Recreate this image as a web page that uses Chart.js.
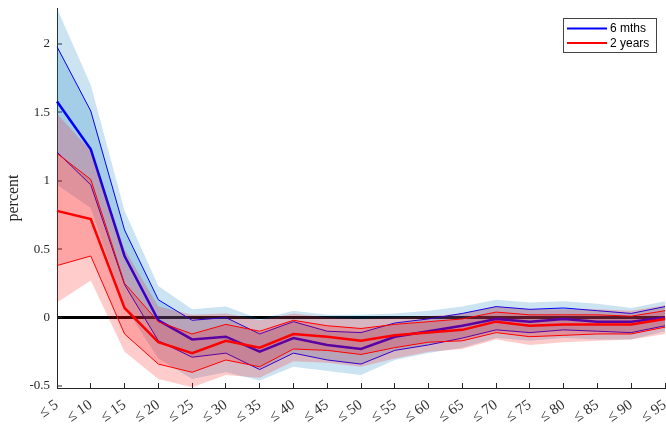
<!DOCTYPE html>
<html>
<head>
<meta charset="utf-8">
<script src="https://cdn.jsdelivr.net/npm/chart.js@4/dist/chart.umd.min.js"></script>
<style>
  html, body { margin: 0; padding: 0; background: #fff; }
  #wrap { width: 666px; height: 426px; }
</style>
</head>
<body>
<div id="wrap"><canvas id="c" width="666" height="426"></canvas></div>
<script>
// ---- data ----
const categories = ["≤ 5","≤ 10","≤ 15","≤ 20","≤ 25","≤ 30","≤ 35","≤ 40","≤ 45","≤ 50",
                    "≤ 55","≤ 60","≤ 65","≤ 70","≤ 75","≤ 80","≤ 85","≤ 90","≤ 95"];

const sixMonths       = [1.58, 1.23, 0.45, -0.02, -0.16, -0.14, -0.25, -0.15, -0.20, -0.23, -0.14, -0.10, -0.06, -0.01, -0.03, -0.01, -0.03, -0.03, 0.00];
const sixMonthsInnerHi= [1.98, 1.51, 0.64, 0.13, -0.02, 0.00, -0.12, -0.03, -0.10, -0.11, -0.04, -0.01, 0.03, 0.08, 0.06, 0.07, 0.05, 0.03, 0.08];
const sixMonthsInnerLo= [1.21, 0.97, 0.24, -0.17, -0.29, -0.26, -0.38, -0.26, -0.31, -0.34, -0.24, -0.20, -0.15, -0.09, -0.11, -0.09, -0.10, -0.11, -0.06];
const sixMonthsOuterHi= [2.26, 1.70, 0.78, 0.23, 0.06, 0.08, -0.01, 0.05, 0.02, 0.02, 0.03, 0.05, 0.08, 0.13, 0.11, 0.12, 0.10, 0.07, 0.12];
const sixMonthsOuterLo= [0.97, 0.80, 0.08, -0.30, -0.45, -0.40, -0.46, -0.36, -0.39, -0.42, -0.31, -0.26, -0.22, -0.15, -0.17, -0.15, -0.16, -0.16, -0.10];

const twoYears        = [0.78, 0.72, 0.07, -0.18, -0.26, -0.17, -0.22, -0.12, -0.14, -0.17, -0.13, -0.11, -0.09, -0.03, -0.06, -0.05, -0.05, -0.05, -0.01];
const twoYearsInnerHi = [1.20, 1.01, 0.25, -0.03, -0.12, -0.05, -0.10, -0.02, -0.06, -0.08, -0.05, -0.03, -0.01, 0.04, 0.02, 0.02, 0.02, 0.01, 0.05];
const twoYearsInnerLo = [0.38, 0.45, -0.12, -0.34, -0.40, -0.31, -0.36, -0.23, -0.24, -0.27, -0.22, -0.18, -0.17, -0.11, -0.14, -0.13, -0.12, -0.12, -0.07];
const twoYearsOuterHi = [1.49, 1.22, 0.50, 0.08, 0.02, 0.03, -0.02, 0.03, 0.00, -0.01, 0.00, 0.01, 0.03, 0.08, 0.06, 0.06, 0.06, 0.05, 0.09];
const twoYearsOuterLo = [0.11, 0.27, -0.25, -0.45, -0.51, -0.42, -0.44, -0.32, -0.33, -0.36, -0.30, -0.25, -0.23, -0.16, -0.20, -0.18, -0.17, -0.16, -0.12];

const yTicks = [-0.5, 0, 0.5, 1, 1.5, 2];
const yMin = -0.515, yMax = 2.263;

// ---- styles ----
const BLUE = 'rgb(0,0,255)', RED = 'rgb(255,0,0)';
const BLUE_FILL = 'rgba(0,114,189,0.2)', RED_FILL = 'rgba(255,0,0,0.2)';
const AX = '#262626';
const SERIF = "'Liberation Serif', 'DejaVu Serif', serif";

function line(label, data, color, width, fill, bg) {
  return {
    label: label, data: data, borderColor: color, borderWidth: width,
    backgroundColor: bg || 'rgba(0,0,0,0)', fill: fill || false,
    pointRadius: 0, pointHoverRadius: 0, tension: 0
  };
}

const datasets = [
  line('2 years', twoYears, RED, 2.5),
  line('', twoYearsInnerHi, RED, 1),
  line('', twoYearsInnerLo, RED, 1, '-1', RED_FILL),
  line('', twoYearsOuterHi, 'rgba(0,0,0,0)', 0),
  line('', twoYearsOuterLo, 'rgba(0,0,0,0)', 0, '-1', RED_FILL),
  line('6 mths', sixMonths, BLUE, 2.5),
  line('', sixMonthsInnerHi, BLUE, 1),
  line('', sixMonthsInnerLo, BLUE, 1, '-1', BLUE_FILL),
  line('', sixMonthsOuterHi, 'rgba(0,0,0,0)', 0),
  line('', sixMonthsOuterLo, 'rgba(0,0,0,0)', 0, '-1', BLUE_FILL)
];

// legend box drawn inside the plot, top right, from dataset labels
const boxLegend = {
  id: 'boxLegend',
  afterDraw(chart) {
    const ctx = chart.ctx;
    const items = chart.data.datasets.filter(d => d.label).reverse(); // 6 mths first
    const x0 = 563, y0 = 18, w = 93, h = 34;
    ctx.save();
    ctx.fillStyle = '#fff';
    ctx.fillRect(x0, y0, w, h);
    ctx.strokeStyle = '#444';
    ctx.lineWidth = 1;
    ctx.strokeRect(x0 + 0.5, y0 + 0.5, w, h);
    ctx.font = "12px 'Liberation Sans', Arial, sans-serif";
    ctx.textBaseline = 'middle';
    ctx.textAlign = 'left';
    items.forEach((d, i) => {
      const y = y0 + 10.5 + i * 14.4;
      ctx.strokeStyle = d.borderColor;
      ctx.lineWidth = 2;
      ctx.beginPath();
      ctx.moveTo(567, y);
      ctx.lineTo(607, y);
      ctx.stroke();
      ctx.fillStyle = '#000';
      ctx.fillText(d.label, 610, y + 0.5);
    });
    ctx.restore();
  }
};

new Chart(document.getElementById('c'), {
  type: 'line',
  data: { labels: categories, datasets: datasets },
  options: {
    responsive: false,
    devicePixelRatio: 1,
    animation: false,
    layout: { padding: { left: 0, top: 8, right: 1, bottom: 0 } },
    plugins: { legend: { display: false }, tooltip: { enabled: false } },
    scales: {
      x: {
        type: 'category',
        offset: false,
        grid: { drawOnChartArea: false, tickLength: -5, tickColor: AX, tickWidth: 1 },
        border: { color: AX, width: 1 },
        ticks: {
          autoSkip: false, minRotation: 35, maxRotation: 35, padding: 13,
          color: '#333', font: { family: SERIF, size: 15 }
        },
        afterFit(scale) { scale.height = 38; scale.paddingLeft = 0; scale.paddingRight = 0; }
      },
      y: {
        type: 'linear',
        min: yMin, max: yMax,
        z: 1,
        afterBuildTicks(scale) { scale.ticks = yTicks.map(v => ({ value: v })); },
        grid: {
          drawOnChartArea: true,
          color: (c) => (c.tick && c.tick.value === 0) ? '#000' : 'rgba(0,0,0,0)',
          lineWidth: (c) => (c.tick && c.tick.value === 0) ? 3 : 0,
          tickLength: -5, tickColor: AX, tickWidth: 1
        },
        border: { color: AX, width: 1 },
        ticks: {
          padding: 12, color: AX, font: { family: SERIF, size: 13 },
          callback: (v) => String(v)
        },
        title: {
          display: true, text: 'percent', color: AX,
          font: { family: SERIF, size: 16 }, padding: { top: 4, bottom: 0 }
        },
        afterFit(scale) { scale.width = 57; scale.paddingTop = 0; scale.paddingBottom = 0; }
      }
    }
  },
  plugins: [boxLegend]
});
</script>
</body>
</html>
